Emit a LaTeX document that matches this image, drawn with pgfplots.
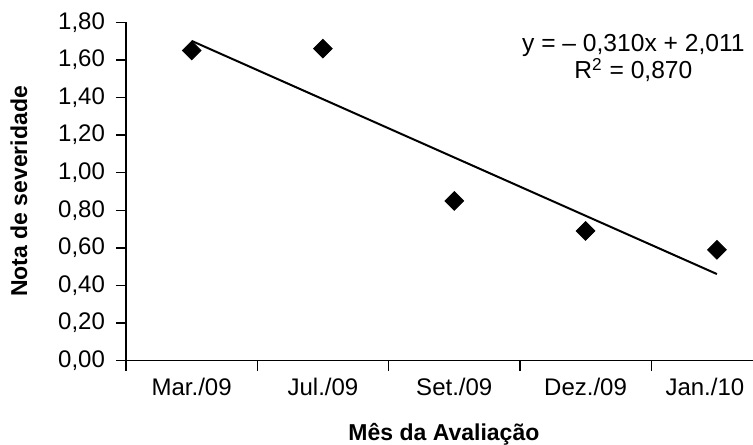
\documentclass[border=0pt]{standalone}
\usepackage{fontspec}
\setmainfont{Liberation Sans}
\usepackage{pgfplots}
\pgfplotsset{compat=1.18}

\pgfplotstableread{
x y
1 1.65
2 1.66
3 0.85
4 0.69
5 0.59
}\sevdata

\begin{document}
\begin{tikzpicture}
  % fixed frame, 0.5pt per pixel of the 753x444 reference
  \useasboundingbox (-63pt,-41.65pt) rectangle (313.5pt,180.35pt);
  \begin{axis}[
      scale only axis,
      width=313.5pt,
      height=169.2pt,
      xmin=0.5, xmax=5.275,
      ymin=0, ymax=1.8,
      axis x line=bottom,
      axis y line=left,
      axis line style={-, line width=0.7pt},
      tick align=outside,
      major tick length=5pt,
      every tick/.style={black, line width=0.7pt},
      xtick={0.5,1.5,2.5,3.5,4.5},
      xticklabels={},
      extra x ticks={1,2,3,4,5},
      extra x tick labels={Mar./09,Jul./09,Set./09,Dez./09,{\makebox[0pt]{Jan./10\hspace*{12pt}}}},
      extra x tick style={major tick length=0pt,
        xticklabel style={anchor=base, yshift=-17.5pt}},
      ytick={0,0.2,0.4,0.6,0.8,1.0,1.2,1.4,1.6,1.8},
      /pgf/number format/use comma,
      /pgf/number format/fixed,
      /pgf/number format/fixed zerofill,
      /pgf/number format/precision=2,
      /pgf/number format/assume math mode=true,
      yticklabel style={xshift=-2pt},
      tick label style={font=\fontsize{12}{14}\selectfont},
      label style={font=\fontsize{11.5}{14}\selectfont\bfseries},
      xlabel={Mês da Avaliação},
      ylabel={Nota de severidade},
      xlabel style={at={(axis description cs:0.507,-0.2166)}, anchor=center},
      ylabel style={at={(axis description cs:-0.1707,0.5)}, anchor=center},
      clip=false,
    ]
    \addplot[only marks, mark=square*, mark size=3.3pt,
      mark options={rotate=45, fill=black, draw=black}] table[x=x, y=y] {\sevdata};
    % linear trend line y = -0.310x + 2.011
    \addplot[black, line width=1pt, mark=none] coordinates {(1,1.701) (5,0.461)};
    \node[align=center, font=\fontsize{12.3}{11.5}\selectfont]
      at (axis cs:4.364,1.61) {y = – 0,310x + 2,011\\R\textsuperscript{2} = 0,870};
  \end{axis}
\end{tikzpicture}
\end{document}
